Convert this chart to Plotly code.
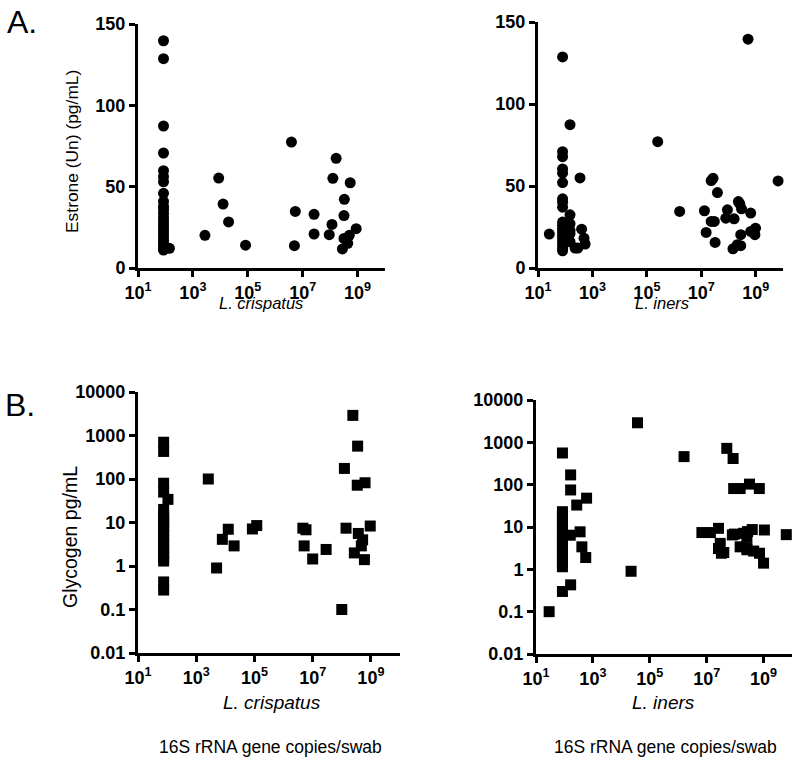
import plotly.graph_objects as go

# A. Estrone vs L. crispatus (copies/swab, pg/mL)
crisp_e_x = [85] * 24 + [140,
             2.75e3, 8.7e3, 1.26e4, 2.0e4, 8.3e4, 3.9e6, 5.4e6, 5.0e6, 2.6e7, 2.6e7,
             1.66e8, 1.26e8, 1.17e8, 9.3e7, 5.4e8, 3.3e8, 3.2e8, 8.9e8, 5.0e8, 3.2e8,
             4.4e8, 2.8e8]
crisp_e_y = [139.7, 128.7, 87.3, 70.7, 59.8, 56.1, 53, 45.9, 41, 38, 36, 33.5,
             31, 29, 27, 25, 23, 21, 19, 17, 15, 13.5, 12, 11, 12.1,
             20.1, 55.3, 39.3, 28.3, 14, 77.4, 34.8, 13.7, 33, 20.9,
             67.4, 55.1, 26.8, 20.5, 52.4, 42.2, 32.2, 24.2, 20.1, 18.2,
             15.2, 11.7]

# A. Estrone vs L. iners
iners_e_x = [26] + [80] * 19 + [150] * 6 + [350, 400, 490, 540, 290, 230,
             2.5e5, 1.6e6, 1.3e7, 1.5e7, 2.3e7, 2.7e7, 3.9e7, 2.3e7, 3.0e7, 3.2e7,
             9.1e7, 7.9e7, 1.6e8, 2.3e8, 2.6e8, 3.0e8, 6.5e8, 2.8e8, 2.1e8, 1.45e8,
             2.8e8, 6.5e8, 9.8e8, 9.3e8, 5.2e8, 6.6e9]
iners_e_y = [20.7,
             128.7, 70.9, 67.9, 60.4, 57.8, 52.1, 42.2, 40.1, 37.1, 28, 26, 24,
             22, 20, 18, 16, 14, 12, 10.5,
             87.4, 32.4, 27, 23, 21, 16,
             54.9, 23.7, 18.2, 14.6, 12.2, 12.2,
             77, 34.5, 34.9, 21.7, 53.3, 54.7, 46, 28.4, 28.4, 15.6,
             35.5, 30.4, 30, 40.5, 39.1, 36.1, 33.5, 20.3, 14.2, 11.7,
             13.6, 22.3, 24.3, 20.3, 139.5, 53.1]

# B. Glycogen vs L. crispatus
crisp_g_x = [76] * 19 + [107,
             2.6e3, 5.0e3, 7.9e3, 1.26e4, 2.0e4, 8.5e4, 1.2e5, 4.6e6, 5.9e6, 5.1e6,
             1.0e7, 2.9e7, 1.0e8, 1.23e8, 1.4e8, 2.4e8, 3.5e8, 3.4e8, 6.3e8, 3.7e8,
             2.7e8, 4.7e8, 5.2e8, 6.0e8, 9.5e8]
crisp_g_y = [700, 430, 80, 50, 20, 15, 12, 10, 8, 6.5, 5, 4, 3.2, 2.5, 2, 1.6,
             1.3, 0.43, 0.28, 34,
             100, 0.9, 4.1, 7, 2.9, 7.1, 8.5, 7.4, 6.8, 2.9,
             1.45, 2.4, 0.1, 175, 7.4, 2900, 570, 72, 82, 5.6,
             2.0, 2.9, 4.0, 1.4, 8.3]

# B. Glycogen vs L. iners
iners_g_x = [29] + [85] * 16 + [165, 165, 165, 270, 600, 355, 160, 410, 560,
             2.2e4, 3.7e4, 1.6e6, 5.1e7, 8.5e7, 8.9e7, 1.5e8, 3.2e8, 7.1e8,
             6.8e6, 1.35e7, 2.6e7, 3.0e7, 2.6e7, 4.0e7, 9.5e7, 2.0e8, 2.75e8, 4.0e8,
             1.07e9, 2.6e8, 1.5e8, 2.6e8, 4.5e8, 7.2e8, 1.0e9, 6.3e9, 3.3e7, 8e7, 2.6e8]
iners_g_y = [0.1,
             560, 23, 18, 14, 11, 9, 7, 5.5, 4.5, 3.5, 2.8, 2.2, 1.7, 1.4, 1.15, 0.3,
             0.43, 170, 75, 33, 48, 7.7, 6.4, 3.4, 1.9,
             0.9, 2900, 460, 720, 415, 81, 81, 103, 81,
             7.4, 7.4, 9.3, 4.1, 3.1, 2.5, 6.8, 7.1, 7.8, 8.7,
             8.5, 5.7, 3.4, 2.9, 2.7, 2.4, 1.4, 6.6, 2.4, 6.5, 3.2]

log_ticks = [10, 1e3, 1e5, 1e7, 1e9]
log_labels = ["10<sup>1</sup>", "10<sup>3</sup>", "10<sup>5</sup>", "10<sup>7</sup>", "10<sup>9</sup>"]
lin_ticks = [0, 50, 100, 150]
glyc_ticks = [0.01, 0.1, 1, 10, 100, 1000, 10000]
glyc_labels = ["0.01", "0.1", "1", "10", "100", "1000", "10000"]

FONT = "Liberation Sans, Arial, sans-serif"
W, H = 800, 765

fig = go.Figure()
panels = [
    (crisp_e_x, crisp_e_y, "circle", 11, "x", "y"),
    (iners_e_x, iners_e_y, "circle", 11, "x2", "y2"),
    (crisp_g_x, crisp_g_y, "square", 11, "x3", "y3"),
    (iners_g_x, iners_g_y, "square", 11, "x4", "y4"),
]
for xs, ys, sym, sz, xa, ya in panels:
    fig.add_trace(go.Scatter(x=xs, y=ys, mode="markers", xaxis=xa, yaxis=ya,
                             marker=dict(symbol=sym, size=sz, color="black"),
                             cliponaxis=False, showlegend=False))

axis_style = dict(showline=True, linewidth=3, linecolor="black", ticks="outside",
                  ticklen=6, tickwidth=3, tickcolor="black", showgrid=False,
                  zeroline=False, automargin=False,
                  tickfont=dict(family=FONT, size=18, color="black", weight="bold"))


def px_dom(a, b):
    return [a / W, b / W]


def py_dom(top, bottom):
    return [1 - bottom / H, 1 - top / H]


def xaxis(dom, anchor):
    return dict(axis_style, type="log", range=[1, 10], domain=dom, anchor=anchor,
                tickvals=log_ticks, ticktext=log_labels)


fig.update_layout(
    width=W, height=H, plot_bgcolor="white", paper_bgcolor="white",
    margin=dict(l=0, r=0, t=0, b=0, pad=0, autoexpand=False),
    xaxis=xaxis(px_dom(138, 385), "y"),
    yaxis=dict(axis_style, range=[0, 150], domain=py_dom(24, 268), anchor="x",
               tickvals=lin_ticks),
    xaxis2=xaxis(px_dom(538, 783), "y2"),
    yaxis2=dict(axis_style, range=[0, 150], domain=py_dom(22, 268), anchor="x2",
                tickvals=lin_ticks),
    xaxis3=xaxis(px_dom(138, 400), "y3"),
    yaxis3=dict(axis_style, type="log", range=[-2, 4], domain=py_dom(392, 653), anchor="x3",
                tickvals=glyc_ticks, ticktext=glyc_labels),
    xaxis4=xaxis(px_dom(536, 792), "y4"),
    yaxis4=dict(axis_style, type="log", range=[-2, 4], domain=py_dom(400, 654), anchor="x4",
                tickvals=glyc_ticks, ticktext=glyc_labels),
)


def note(text, x, y, size, angle=0, italic=False):
    fig.add_annotation(text=text, x=x / W, y=1 - y / H, xref="paper", yref="paper",
                       showarrow=False, textangle=angle, xanchor="center", yanchor="middle",
                       font=dict(family=FONT, size=size, color="black",
                                 style="italic" if italic else "normal"))


note("A.", 22, 22, 32)
note("B.", 20, 405, 32)
note("Estrone (Un) (pg/mL)", 72, 152, 17.4, angle=-90)
note("Glycogen pg/mL", 70, 537, 19.5, angle=-90)
note("L. crispatus", 261, 303, 16.5, italic=True)
note("L. iners", 662, 303, 16.5, italic=True)
note("L. crispatus", 272, 702, 19, italic=True)
note("L. iners", 663, 702, 19, italic=True)
note("16S rRNA gene copies/swab", 270, 747, 17.5)
note("16S rRNA gene copies/swab", 665, 747, 17.5)

# drop the default page margin so the figure starts at the window corner
fig.write_html("out.html", config={"displayModeBar": False},
               post_script="document.body.style.margin = '0';")
